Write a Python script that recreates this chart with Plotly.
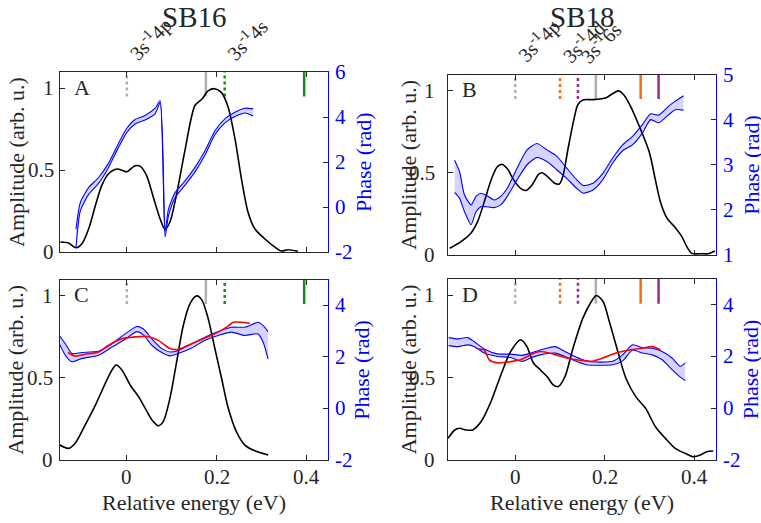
import plotly.graph_objects as go

# ---------------- data ----------------
# Panel A (SB16, amplitude)
a_amp_x = [-0.148, -0.13, -0.113, -0.1, -0.085, -0.07, -0.056, -0.041, -0.022, -0.007, 0.0, 0.0185, 0.03, 0.044,
           0.059, 0.074, 0.085, 0.096, 0.111, 0.13, 0.152, 0.167, 0.181, 0.195, 0.211, 0.226, 0.241, 0.256, 0.27,
           0.285, 0.307, 0.33, 0.344, 0.359, 0.381]
a_amp_y = [0.061, 0.055, 0.026, 0.05, 0.142, 0.284, 0.406, 0.477, 0.507, 0.495, 0.49, 0.527, 0.523, 0.467,
           0.335, 0.203, 0.138, 0.183, 0.355, 0.629, 0.897, 0.933, 0.984, 0.998, 0.974, 0.882, 0.69, 0.436, 0.243,
           0.142, 0.081, 0.03, 0.006, 0.014, 0.004]
a_ph_x = [-0.1133, -0.1037, -0.0852, -0.063, -0.0407, -0.0185, 0.0, 0.0185, 0.0407, 0.063, 0.0741, 0.0852,
          0.0926, 0.1074, 0.1296, 0.1519, 0.1741, 0.1963, 0.2185, 0.2407, 0.263, 0.2815]
a_ph_hi = [-0.99, 0.19, 0.86, 1.31, 1.95, 2.83, 3.50, 3.89, 4.07, 4.39, 4.72, -1.08,
           -0.11, 0.64, 1.16, 1.76, 2.50, 3.39, 3.92, 4.21, 4.39, 4.36]
a_ph_lo = [-1.82, -0.18, 0.56, 1.05, 1.76, 2.65, 3.32, 3.69, 3.87, 4.14, 4.63, -1.33,
           -0.41, 0.41, 0.97, 1.56, 2.31, 3.22, 3.74, 4.02, 4.18, 4.04]

# Panel B (SB18, amplitude)
b_amp_x = [-0.146, -0.121, -0.099, -0.084, -0.069, -0.054, -0.04, -0.029, -0.018, -0.003, 0.012, 0.025, 0.0375,
           0.052, 0.06, 0.071, 0.089, 0.099, 0.107, 0.118, 0.129, 0.14, 0.151, 0.174, 0.203, 0.218, 0.23, 0.243,
           0.258, 0.276, 0.299, 0.313, 0.324, 0.339, 0.357, 0.372, 0.383, 0.394, 0.416, 0.431, 0.446]
b_amp_y = [0.041, 0.081, 0.132, 0.203, 0.325, 0.456, 0.538, 0.552, 0.527, 0.456, 0.406, 0.394, 0.426,
           0.491, 0.501, 0.481, 0.436, 0.434, 0.487, 0.649, 0.801, 0.917, 0.945, 0.947, 0.959, 0.984, 1.0, 0.974,
           0.903, 0.791, 0.629, 0.456, 0.325, 0.223, 0.168, 0.112, 0.051, 0.01, 0.008, 0.008, 0.024]
b_ph_x = [-0.1353, -0.1243, -0.1132, -0.0985, -0.0875, -0.0765, -0.0654, -0.0471, -0.0324, -0.0176, 0.0044,
          0.0265, 0.0485, 0.0706, 0.0926, 0.1147, 0.1368, 0.1515, 0.1735, 0.1956, 0.2176, 0.2397, 0.2618,
          0.2838, 0.3022, 0.3206, 0.3426, 0.3574, 0.3757]
b_ph_hi = [3.10, 2.85, 2.33, 2.11, 2.30, 2.37, 2.33, 2.22, 2.30, 2.48, 2.93, 3.33, 3.47, 3.33, 3.19, 2.93, 2.67,
           2.54, 2.59, 2.81, 3.15, 3.44, 3.63, 3.89, 4.13, 4.10, 4.30, 4.41, 4.53]
b_ph_lo = [2.39, 2.26, 1.96, 1.67, 1.96, 2.07, 2.07, 2.05, 2.11, 2.30, 2.67, 3.00, 3.16, 3.07, 2.89, 2.70, 2.48,
           2.37, 2.44, 2.67, 3.04, 3.31, 3.44, 3.70, 4.00, 3.93, 4.11, 4.22, 4.21]

# Panel C (SB16)
c_amp_x = [-0.152, -0.13, -0.115, -0.093, -0.07, -0.048, -0.033, -0.024, -0.011, 0.0074, 0.026, 0.041, 0.056,
           0.07, 0.081, 0.096, 0.111, 0.126, 0.141, 0.156, 0.167, 0.181, 0.196, 0.211, 0.226, 0.244, 0.263,
           0.281, 0.315]
c_amp_y = [0.096, 0.071, 0.102, 0.213, 0.335, 0.467, 0.549, 0.579, 0.549, 0.457, 0.386, 0.315, 0.244,
           0.209, 0.234, 0.376, 0.6, 0.823, 0.955, 1.0, 0.976, 0.864, 0.681, 0.498, 0.315, 0.173, 0.091,
           0.061, 0.03]
c_ph_x = [-0.1504, -0.137, -0.1222, -0.1, -0.063, -0.0333, -0.0037, 0.0222, 0.037, 0.0556, 0.0778, 0.0963,
          0.1148, 0.1444, 0.1741, 0.2037, 0.2333, 0.263, 0.2926, 0.3037, 0.3148]
c_ph_hi = [2.83, 2.51, 2.13, 2.17, 2.22, 2.51, 2.89, 3.18, 3.08, 2.70, 2.32, 2.19, 2.25, 2.51, 2.76, 2.98,
           3.15, 3.15, 3.34, 3.21, 2.98]
c_ph_lo = [2.51, 2.06, 1.81, 1.94, 2.06, 2.38, 2.68, 2.98, 2.85, 2.45, 2.17, 2.04, 2.13, 2.34, 2.64, 2.83,
           2.96, 2.83, 2.89, 2.57, 1.91]
c_red_x = [-0.1311, -0.1148, -0.0926, -0.063, -0.0407, -0.0111, 0.0111, 0.0444, 0.0704, 0.0963, 0.1148,
           0.1444, 0.1741, 0.2037, 0.2222, 0.237, 0.2556, 0.2741]
c_red_y = [2.17, 2.03, 2.10, 2.19, 2.45, 2.70, 2.76, 2.79, 2.64, 2.32, 2.29, 2.51, 2.73, 2.96, 3.15, 3.34,
           3.34, 3.30]

# Panel D (SB18)
d_amp_x = [-0.15, -0.135, -0.124, -0.11, -0.095, -0.076, -0.054, -0.032, -0.01, 0.012, 0.026, 0.041, 0.056,
           0.071, 0.085, 0.096, 0.111, 0.129, 0.151, 0.17, 0.181, 0.196, 0.21, 0.229, 0.247, 0.269, 0.291,
           0.313, 0.335, 0.357, 0.379, 0.398, 0.413, 0.427, 0.442]
d_amp_y = [0.13, 0.181, 0.191, 0.181, 0.181, 0.232, 0.354, 0.516, 0.659, 0.73, 0.689, 0.587, 0.547,
           0.506, 0.455, 0.445, 0.506, 0.679, 0.862, 0.963, 1.0, 0.963, 0.841, 0.659, 0.496, 0.384, 0.313,
           0.201, 0.13, 0.069, 0.039, 0.018, 0.028, 0.049, 0.053]
d_ph_x = [-0.1485, -0.1279, -0.1059, -0.0912, -0.0691, -0.0397, -0.0103, 0.0154, 0.0338, 0.0559, 0.089,
          0.111, 0.1331, 0.1588, 0.1882, 0.2176, 0.2397, 0.2618, 0.2838, 0.3059, 0.3279, 0.35, 0.3684, 0.3794]
d_ph_hi = [2.73, 2.68, 2.73, 2.57, 2.29, 2.10, 2.09, 2.04, 2.13, 2.25, 2.38, 2.19, 2.00, 1.83, 1.78, 1.81,
           2.06, 2.45, 2.34, 2.32, 2.19, 1.94, 1.62, 1.75]
d_ph_lo = [2.42, 2.38, 2.45, 2.38, 2.13, 2.00, 1.96, 1.81, 1.94, 2.06, 2.13, 2.00, 1.83, 1.68, 1.66, 1.68,
           1.83, 2.25, 2.13, 2.06, 1.87, 1.49, 1.20, 1.07]
d_red_x = [-0.0838, -0.0691, -0.0581, -0.0397, -0.0176, 0.0118, 0.0338, 0.0559, 0.0853, 0.1147, 0.1441,
           0.1699, 0.1956, 0.225, 0.2544, 0.2838, 0.3059, 0.3243]
d_red_y = [2.29, 2.25, 1.87, 1.75, 1.78, 1.87, 2.06, 2.19, 2.09, 1.94, 1.85, 1.81, 1.94, 2.13, 2.25, 2.32,
           2.38, 2.25]

# Resonance markers (energy, colour, dashed?)
sb16_marks = [(0.0, "#b0b0b0", True), (0.176, "#b0b0b0", False), (0.218, "#139013", True), (0.395, "#139013", False)]
sb18_marks = [(0.0, "#b0b0b0", True), (0.10, "#f96a10", True), (0.14, "#962a96", True), (0.18, "#b0b0b0", False),
              (0.28, "#f96a10", False), (0.32, "#962a96", False)]
sb16_labels = [(0.0, "3s<sup>-1</sup>4p"), (0.218, "3s<sup>-1</sup>4s")]
sb18_labels = [(0.0, "3s<sup>-1</sup>4p"), (0.10, "3s<sup>-1</sup>4d"), (0.14, "3s<sup>-1</sup>6s")]

amp_ticks = [0, 0.5, 1]
amp_ticktext = ["0", "0.5", "1"]
x_ticks = [0, 0.2, 0.4]
x_ticktext = ["0", "0.2", "0.4"]
phA_ticks = [-2, 0, 2, 4, 6]
phB_ticks = [1, 2, 3, 4, 5]
phCD_ticks = [-2, 0, 2, 4]

# ---------------- style ----------------
W, H = 761, 523
FONT = "Liberation Serif"
TXT = "#262626"
BLUE = "#0000ff"
BAND = "rgba(0,0,255,0.17)"

def px2x(p):
    return p / W

def px2y(p):
    return 1 - p / H

# panel geometry (pixels): plot box, tick-label gap, axis-title centres
panels = {
    "A": dict(x=(59.5, 327.5), y=(72.0, 252.0), gap=4, amp_t=16, ph_t=363),
    "B": dict(x=(448.0, 715.5), y=(74.5, 255.0), gap=11, amp_t=409, ph_t=752),
    "C": dict(x=(59.5, 327.5), y=(279.5, 460.0), gap=5, amp_t=16, ph_t=362),
    "D": dict(x=(448.0, 715.5), y=(279.0, 459.7), gap=11, amp_t=408, ph_t=750),
}

fig = go.Figure()

def add_panel(idx, amp_x, amp_y, ph_x, ph_hi, ph_lo, red_x, red_y, marks):
    xa = "x" if idx == 1 else f"x{idx}"
    ya = "y" if idx == 1 else f"y{2*idx-1}"
    yp = f"y{2*idx}"
    for xv, col, dashed in marks:
        fig.add_trace(go.Scatter(x=[xv, xv], y=[0.95, 1.1], mode="lines", xaxis=xa, yaxis=ya,
                                 line=dict(color=col, width=2.5, dash="3px,3px" if dashed else "solid"),
                                 showlegend=False, hoverinfo="skip"))
    fig.add_trace(go.Scatter(x=amp_x, y=amp_y, mode="lines", xaxis=xa, yaxis=ya,
                             line=dict(color="black", width=1.6, shape="spline", smoothing=0.8),
                             showlegend=False))
    fig.add_trace(go.Scatter(x=ph_x + ph_x[::-1], y=ph_hi + ph_lo[::-1], mode="lines", fill="toself",
                             fillcolor=BAND, line=dict(width=0), xaxis=xa, yaxis=yp,
                             showlegend=False, hoverinfo="skip"))
    for arr in (ph_hi, ph_lo):
        fig.add_trace(go.Scatter(x=ph_x, y=arr, mode="lines", xaxis=xa, yaxis=yp,
                                 line=dict(color=BLUE, width=1.1, shape="spline", smoothing=0.6),
                                 showlegend=False))
    if red_x is not None:
        fig.add_trace(go.Scatter(x=red_x, y=red_y, mode="lines", xaxis=xa, yaxis=yp,
                                 line=dict(color="#ff0000", width=1.6, shape="spline", smoothing=0.8),
                                 showlegend=False))

add_panel(1, a_amp_x, a_amp_y, a_ph_x, a_ph_hi, a_ph_lo, None, None, sb16_marks)
add_panel(2, b_amp_x, b_amp_y, b_ph_x, b_ph_hi, b_ph_lo, None, None, sb18_marks)
add_panel(3, c_amp_x, c_amp_y, c_ph_x, c_ph_hi, c_ph_lo, c_red_x, c_red_y, sb16_marks)
add_panel(4, d_amp_x, d_amp_y, d_ph_x, d_ph_hi, d_ph_lo, d_red_x, d_red_y, sb18_marks)

fig.update_layout(width=W, height=H, margin=dict(l=0, r=0, t=0, b=0), plot_bgcolor="white",
                  paper_bgcolor="white", showlegend=False, font=dict(family=FONT, color=TXT))

annotations = []

def ann(**kw):
    kw.setdefault("showarrow", False)
    annotations.append(kw)

cfg = [("A", [-2, 6], phA_ticks, False), ("B", [1, 5], phB_ticks, False),
       ("C", [-2, 5], phCD_ticks, True), ("D", [-2, 5], phCD_ticks, True)]
for i, (name, prange, pticks, bottom) in enumerate(cfg, start=1):
    p = panels[name]
    ya = "y" if i == 1 else f"y{2*i-1}"
    yp = f"y{2*i}"
    xa = "x" if i == 1 else f"x{i}"
    xaxis = go.layout.XAxis(domain=[px2x(p["x"][0]), px2x(p["x"][1])], anchor=ya, range=[-0.15, 0.447],
                            tickvals=x_ticks, showticklabels=False,
                            ticks="inside", ticklen=5, tickcolor=TXT, showline=True, linecolor=TXT,
                            linewidth=1, mirror="ticks", showgrid=False, zeroline=False)
    yaxis = go.layout.YAxis(domain=[px2y(p["y"][1]), px2y(p["y"][0])], anchor=xa, range=[0, 1.1],
                            tickvals=amp_ticks, showticklabels=False, ticks="inside", ticklen=5, tickcolor=TXT,
                            showline=True, linecolor=TXT, linewidth=1, showgrid=False, zeroline=False)
    paxis = go.layout.YAxis(overlaying=ya, anchor=xa, side="right", range=prange,
                            tickvals=pticks, showticklabels=False,
                            ticks="inside", ticklen=5, tickcolor=TXT, showline=True, linecolor=BLUE, linewidth=1,
                            showgrid=False, zeroline=False)
    fig.update_layout({("xaxis" if i == 1 else f"xaxis{i}"): xaxis,
                       ("yaxis" if i == 1 else f"yaxis{2*i-1}"): yaxis,
                       f"yaxis{2*i}": paxis})

    # amplitude tick labels
    for t, lab in zip(amp_ticks, amp_ticktext):
        ann(text=lab, x=px2x(p["x"][0] - p["gap"]), xref="paper", y=t, yref=ya, xanchor="right",
            yanchor="middle", font=dict(family=FONT, size=21, color=TXT))
    # phase tick labels
    for t in pticks:
        ann(text=str(t), x=px2x(p["x"][1] + 5), xref="paper", y=t, yref=yp, xanchor="left",
            yanchor="middle", font=dict(family=FONT, size=21, color=BLUE))
    # axis titles
    ymid = (p["y"][0] + p["y"][1]) / 2
    ann(text="Amplitude (arb. u.)", x=px2x(p["amp_t"]), y=px2y(ymid), xref="paper", yref="paper",
        textangle=-90, xanchor="center", yanchor="middle",
        font=dict(family=FONT, size=22, color=TXT))
    ann(text="Phase (rad)", x=px2x(p["ph_t"]), y=px2y(ymid), xref="paper", yref="paper",
        textangle=-90, xanchor="center", yanchor="middle",
        font=dict(family=FONT, size=22, color=BLUE))
    if bottom:
        for t, lab in zip(x_ticks, x_ticktext):
            ann(text=lab, x=t, xref=xa, y=px2y(477), yref="paper", xanchor="center", yanchor="middle",
                font=dict(family=FONT, size=21, color=TXT))
        ann(text="Relative energy (eV)", x=px2x((p["x"][0] + p["x"][1]) / 2), y=px2y(502), xref="paper",
            yref="paper", xanchor="center", yanchor="middle",
            font=dict(family=FONT, size=22, color=TXT))
    # panel letter
    ann(text=name, x=px2x(p["x"][0] + 12), y=px2y(p["y"][0] + 18), xref="paper", yref="paper",
        xanchor="left", yanchor="middle", yshift=3, font=dict(family=FONT, size=22, color=TXT))

ann(text="SB16", x=px2x(193.5), y=px2y(20), xref="paper", yref="paper", xanchor="center", yanchor="middle",
    yshift=3, font=dict(family=FONT, size=29, color=TXT))
ann(text="SB18", x=px2x(582), y=px2y(20), xref="paper", yref="paper", xanchor="center", yanchor="middle",
    yshift=3, font=dict(family=FONT, size=29, color=TXT))
for xv, txt in sb16_labels:
    ann(text=txt, x=xv, y=1.1, xref="x", yref="y", xanchor="left", yanchor="bottom", textangle=-45,
        xshift=-6, yshift=5, font=dict(family=FONT, size=20, color=TXT))
for xv, txt in sb18_labels:
    ann(text=txt, x=xv, y=1.1, xref="x2", yref="y3", xanchor="left", yanchor="bottom", textangle=-45,
        xshift=-6, yshift=5, font=dict(family=FONT, size=20, color=TXT))
fig.update_layout(annotations=annotations)
fig.write_html("out.html")
